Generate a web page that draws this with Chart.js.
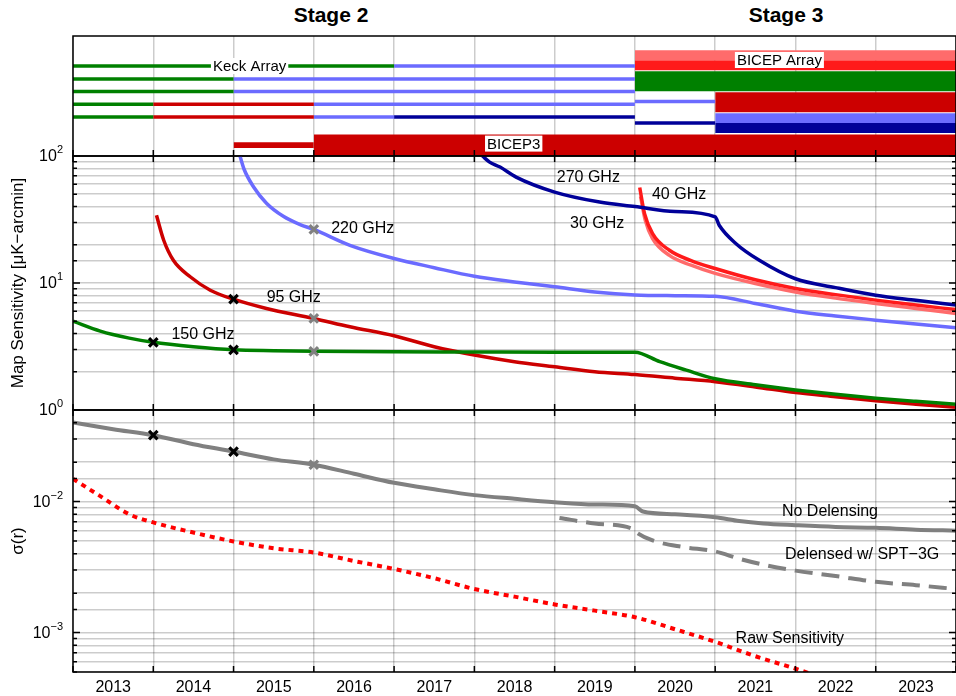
<!DOCTYPE html>
<html>
<head>
<meta charset="utf-8">
<script src="https://cdn.jsdelivr.net/npm/chart.js@4.4.1/dist/chart.umd.min.js"></script>
<style>
  html, body { margin: 0; padding: 0; background: #fff; }
  #wrap { position: relative; width: 956px; height: 696px; overflow: hidden; font-family: "Liberation Sans", Arial, sans-serif; }
  canvas { position: absolute; left: 0; }
  .stage { position: absolute; top: 4px; font-weight: bold; font-size: 21px; line-height: 21px; transform: translateX(-50%); white-space: nowrap; }
</style>
</head>
<body>
<div id="wrap">
  <div class="stage" style="left:331px">Stage 2</div>
  <div class="stage" style="left:786px">Stage 3</div>
  <canvas id="cTop" width="956" height="162" style="top:0"></canvas>
  <canvas id="cMid" width="956" height="282" style="top:140px"></canvas>
  <canvas id="cBot" width="956" height="296" style="top:400px"></canvas>
</div>
<script>
// ---- data ----
const yearTicks = [2013, 2014, 2015, 2016, 2017, 2018, 2019, 2020, 2021, 2022, 2023, 2024];

// map sensitivity [uK-arcmin]
const yr150 = [2013, 2013.34, 2013.7, 2014, 2014.5, 2015, 2015.5, 2016, 2017, 2018, 2019, 2020, 2020.31, 2020.64, 2021, 2021.5, 2022, 2022.5, 2023, 2023.5, 2024];
const s150 = [5.0, 4.18, 3.68, 3.41, 3.15, 2.98, 2.93, 2.9, 2.87, 2.86, 2.85, 2.85, 2.40, 2.06, 1.76, 1.58, 1.44, 1.33, 1.24, 1.17, 1.11];
const yr95 = [2014.04, 2014.13, 2014.25, 2014.46, 2014.71, 2015, 2015.41, 2016, 2016.45, 2017, 2017.5, 2018, 2018.5, 2019, 2019.5, 2020, 2020.5, 2021, 2021.5, 2022, 2022.5, 2023, 2023.5, 2024];
const s95 = [34.1, 21.7, 15.1, 11.2, 8.78, 7.46, 6.3, 5.26, 4.52, 3.84, 3.15, 2.71, 2.40, 2.19, 2.0, 1.9, 1.78, 1.67, 1.52, 1.37, 1.27, 1.18, 1.11, 1.05];
const yr220 = [2015.08, 2015.13, 2015.25, 2015.41, 2015.62, 2015.83, 2016, 2016.45, 2017, 2017.5, 2018, 2018.5, 2019, 2019.5, 2020, 2020.5, 2021, 2021.5, 2022, 2022.5, 2023, 2023.5, 2024];
const s220 = [100, 79, 57, 42.5, 33.5, 28.8, 26.4, 19.8, 15.6, 13.2, 11.3, 10.2, 9.33, 8.5, 8.05, 7.95, 7.85, 6.9, 6.0, 5.5, 5.1, 4.75, 4.45];
const yr270 = [2018.1, 2018.19, 2018.32, 2018.52, 2019, 2019.56, 2020, 2020.5, 2021, 2021.05, 2021.26, 2021.55, 2022, 2022.5, 2023, 2023.5, 2024];
const s270 = [100, 89.5, 81.8, 68.2, 52, 43.4, 40, 36.5, 33.1, 28.5, 20.4, 15.1, 10.8, 9.2, 8.0, 7.3, 6.7];
const yr40 = [2020.06, 2020.12, 2020.22, 2020.43, 2020.7, 2021, 2021.5, 2022, 2022.5, 2023, 2023.5, 2024];
const s40 = [56.5, 35.2, 24.5, 18.1, 15.0, 13.0, 10.6, 9.06, 8.1, 7.33, 6.7, 6.17];
const yr30 = [2020.07, 2020.13, 2020.22, 2020.43, 2020.7, 2021, 2021.5, 2022, 2022.5, 2023, 2023.5, 2024];
const s30 = [48, 31, 22.4, 16.5, 13.8, 11.9, 9.9, 8.5, 7.6, 6.9, 6.3, 5.76];
const doneYr = [2014, 2015, 2015];
const doneSens = [3.41, 2.97, 7.46];
const nextYr = [2016, 2016, 2016];
const nextSens = [26.4, 5.26, 2.9];

// sigma(r)
const yrNoDel = [2013, 2013.5, 2014, 2014.5, 2015, 2015.5, 2016, 2016.5, 2017, 2017.5, 2018, 2018.5, 2019, 2019.5, 2020, 2020.1, 2020.5, 2021, 2021.3, 2021.6, 2022, 2022.5, 2023, 2023.5, 2024];
const sNoDel = [0.0402, 0.0357, 0.0321, 0.0274, 0.0241, 0.021, 0.0191, 0.0163, 0.0139, 0.0124, 0.0112, 0.0105, 0.0099, 0.0095, 0.0092, 0.0084, 0.0080, 0.0076, 0.0071, 0.0068, 0.0066, 0.0064, 0.0063, 0.0061, 0.0060];
const yrDel = [2019.06, 2019.5, 2019.97, 2020.03, 2020.22, 2020.6, 2021, 2021.3, 2021.6, 2022, 2022.5, 2023, 2023.5, 2024];
const sDel = [0.0075, 0.0068, 0.0062, 0.00575, 0.00505, 0.0045, 0.00416, 0.00366, 0.0033, 0.00297, 0.0027, 0.00244, 0.0023, 0.00215];
const yrRaw = [2013, 2013.34, 2013.7, 2014, 2014.5, 2015, 2015.5, 2016, 2016.5, 2017, 2017.5, 2018, 2018.5, 2019, 2019.5, 2020, 2020.5, 2021, 2021.5, 2022, 2022.3];
const sRaw = [0.0149, 0.011, 0.0080, 0.00693, 0.0058, 0.00496, 0.0044, 0.00408, 0.00352, 0.00306, 0.0026, 0.00215, 0.00188, 0.00164, 0.00147, 0.00131, 0.00106, 0.00085, 0.00066, 0.00053, 0.00046];
const doneYrR = [2014, 2015];
const doneR = [0.0321, 0.0241];
const nextYrR = [2016];
const nextR = [0.0191];

// receiver timeline: [start, end, band]
const keckRows = [
  [[2013, 2017, '150'], [2017, 2020, '220']],
  [[2013, 2015, '150'], [2015, 2020, '220']],
  [[2013, 2015, '150'], [2015, 2020, '220']],
  [[2013, 2014, '150'], [2014, 2016, '95'], [2016, 2020, '220']],
  [[2013, 2014, '150'], [2014, 2016, '95'], [2016, 2017, '220'], [2017, 2020, '270']]
];
const keckExtra = [[2020, 2021, '220'], [2020, 2021, '270']];
const bicepArray = [[2020, 2024, '30'], [2020, 2024, '40'], [2020, 2024, '150'], [2021, 2024, '95'], [2021, 2024, '220'], [2021, 2024, '270']];
const bicep3 = [[2015, 2016, '95'], [2016, 2024, '95']];

// ---- layout / style ----
const FONT = '"Liberation Sans", Arial, sans-serif';
const GRID = 'rgba(0,0,0,0.2)';
const bandColor = { '30': '#ff6b6b', '40': '#ff1a1a', '95': '#cc0000', '150': '#008000', '220': '#6b6bff', '270': '#000099' };
const keckRowY = [30, 43, 55.6, 68.3, 81];
const keckExtraY = [65.6, 87];
const arrayBandY = [[14.3, 24.3], [24.3, 34.3], [35.3, 55.3], [56.3, 76.3], [77.3, 87], [87, 97]];
const b3BandY = [[106.3, 112], [98.6, 120]];

Chart.defaults.font.family = FONT;
Chart.defaults.color = '#000';

const pts = (xs, ys) => xs.map((x, i) => ({ x, y: ys[i] }));
const isDecade = v => Math.abs(Math.log10(v) - Math.round(Math.log10(v))) < 1e-6;
const noPad = s => { s.paddingLeft = 0; s.paddingRight = 0; s.paddingTop = 0; s.paddingBottom = 0; };

const framePlugin = {
  id: 'frame',
  afterDraw(chart, args, o) {
    const { ctx, chartArea: a, scales } = chart;
    ctx.save();
    ctx.strokeStyle = '#000';
    ctx.lineWidth = 1.5;
    ctx.beginPath();
    scales.x.ticks.forEach(t => {
      const px = scales.x.getPixelForValue(t.value);
      ctx.moveTo(px, a.bottom); ctx.lineTo(px, a.bottom - 6);
      if (o.xTop) { ctx.moveTo(px, a.top); ctx.lineTo(px, a.top + 6); }
    });
    if (o.log) {
      scales.y.ticks.forEach(t => {
        const py = scales.y.getPixelForValue(t.value);
        const len = isDecade(t.value) ? 7 : 4;
        ctx.moveTo(a.left, py); ctx.lineTo(a.left + len, py);
        ctx.moveTo(a.right, py); ctx.lineTo(a.right - len, py);
      });
    }
    ctx.stroke();
    ctx.strokeRect(a.left, a.top, a.right - a.left, a.bottom - a.top);
    if (o.log) {
      ctx.fillStyle = '#000';
      ctx.textBaseline = 'middle';
      ctx.textAlign = 'right';
      scales.y.ticks.forEach(t => {
        if (!isDecade(t.value)) return;
        const py = scales.y.getPixelForValue(t.value);
        const e = Math.round(Math.log10(t.value));
        const expTxt = e < 0 ? '\u2212' + (-e) : String(e);
        ctx.font = '11px ' + FONT;
        const ew = ctx.measureText(expTxt).width;
        ctx.fillText(expTxt, 63, py - 6);
        ctx.font = '16px ' + FONT;
        ctx.fillText('10', 63 - ew, py + 1);
      });
    }
    ctx.restore();
  }
};

const textPlugin = {
  id: 'texts',
  afterDatasetsDraw(chart, args, o) {
    const { ctx, scales: { x, y } } = chart;
    ctx.save();
    ctx.font = o.size + 'px ' + FONT;
    ctx.textAlign = 'center';
    ctx.textBaseline = 'middle';
    o.items.forEach(it => {
      const px = x.getPixelForValue(it.x), py = y.getPixelForValue(it.y);
      if (o.box) {
        const w = ctx.measureText(it.text).width + 4;
        ctx.fillStyle = '#fff';
        ctx.fillRect(px - w / 2, py - 8, w, 16);
      }
      ctx.fillStyle = '#000';
      ctx.fillText(it.text, px, py + 1);
    });
    ctx.restore();
  }
};

function xAxis(labels) {
  return {
    type: 'linear', min: 2013, max: 2024,
    afterBuildTicks: s => { s.ticks = yearTicks.map(v => ({ value: v })); },
    grid: { color: GRID, lineWidth: 1.5, drawTicks: false },
    border: { display: false },
    ticks: labels
      ? { display: true, autoSkip: false, maxRotation: 0, padding: 6, labelOffset: 40.2, font: { size: 16 }, callback: v => (v < 2024 ? String(v) : '') }
      : { display: false },
    afterFit: s => { s.height = labels ? 24 : 0; noPad(s); }
  };
}

function logAxis(min, max, title) {
  return {
    type: 'logarithmic', min, max,
    grid: { color: GRID, lineWidth: 1.5, drawTicks: false },
    border: { display: false },
    ticks: { display: false, autoSkip: false },
    title: { display: true, text: title, font: { size: 17 }, padding: { top: 8 } },
    afterFit: s => { s.width = 73; noPad(s); }
  };
}

const lineDs = (data, color, width, extra) => Object.assign({
  data, borderColor: color, borderWidth: width, pointRadius: 0,
  fill: false, cubicInterpolationMode: 'monotone'
}, extra || {});
const crossDs = (data, color) => ({
  data, showLine: false, pointStyle: 'crossRot', pointRadius: 6,
  pointBorderWidth: 3.2, pointBorderColor: color, borderColor: color, backgroundColor: color
});

// ---- top panel: receivers ----
const topSets = [];
keckRows.forEach((row, r) => row.forEach(([s, e, b]) => {
  topSets.push(lineDs([{ x: s, y: keckRowY[r] }, { x: e, y: keckRowY[r] }], bandColor[b], 3.5, { cubicInterpolationMode: 'default', tension: 0 }));
}));
keckExtra.forEach(([s, e, b], i) => {
  topSets.push(lineDs([{ x: s, y: keckExtraY[i] }, { x: e, y: keckExtraY[i] }], bandColor[b], 3.5, { tension: 0, cubicInterpolationMode: 'default' }));
});
const rectDs = ([s, e, b], [y0, y1]) => ({
  data: [{ x: s, y: y0 }, { x: e, y: y0 }], borderWidth: 0, pointRadius: 0,
  backgroundColor: bandColor[b], borderColor: bandColor[b], fill: { value: y1 }
});
bicepArray.forEach((seg, i) => topSets.push(rectDs(seg, arrayBandY[i])));
bicep3.forEach((seg, i) => topSets.push(rectDs(seg, b3BandY[i])));

new Chart(document.getElementById('cTop'), {
  type: 'line',
  data: { datasets: topSets },
  options: {
    responsive: false, animation: false,
    layout: { autoPadding: false, padding: { top: 36, left: 73, right: 0, bottom: 6 } },
    plugins: {
      legend: { display: false }, tooltip: { enabled: false },
      frame: { xTop: false, log: false },
      texts: { size: 15, box: true, items: [
        { text: 'Keck Array', x: 2015.2, y: 30 },
        { text: 'BICEP Array', x: 2021.8, y: 24 },
        { text: 'BICEP3', x: 2018.49, y: 107.6 }
      ] }
    },
    scales: {
      x: xAxis(false),
      y: { type: 'linear', min: 0, max: 120, reverse: true, display: false }
    }
  },
  plugins: [textPlugin, framePlugin]
});

// ---- middle panel: map sensitivity ----
new Chart(document.getElementById('cMid'), {
  type: 'line',
  data: { datasets: [
    crossDs(pts(doneYr, doneSens), '#000'),
    crossDs(pts(nextYr, nextSens), '#808080'),
    lineDs(pts(yr150, s150), '#008000', 3.5),
    lineDs(pts(yr95, s95), '#cc0000', 3.5),
    lineDs(pts(yr220, s220), '#6b6bff', 3.5),
    lineDs(pts(yr270, s270), '#000099', 3.5),
    lineDs(pts(yr40, s40), '#ff1a1a', 3.5),
    lineDs(pts(yr30, s30), '#ff6b6b', 3.5)
  ] },
  options: {
    responsive: false, animation: false,
    layout: { autoPadding: false, padding: { top: 16, left: 0, right: 0, bottom: 12 } },
    plugins: {
      legend: { display: false }, tooltip: { enabled: false },
      frame: { xTop: true, log: true },
      texts: { size: 16, box: false, items: [
        { text: '150 GHz', x: 2014.62, y: 4.03 },
        { text: '95 GHz', x: 2015.75, y: 7.88 },
        { text: '220 GHz', x: 2016.61, y: 27.5 },
        { text: '270 GHz', x: 2019.42, y: 69 },
        { text: '30 GHz', x: 2019.53, y: 30.1 },
        { text: '40 GHz', x: 2020.55, y: 50.8 }
      ] }
    },
    scales: {
      x: xAxis(false),
      y: logAxis(1, 100, 'Map Sensitivity [\u03bcK\u2212arcmin]')
    }
  },
  plugins: [textPlugin, framePlugin]
});

// ---- bottom panel: sigma(r) ----
new Chart(document.getElementById('cBot'), {
  type: 'line',
  data: { datasets: [
    crossDs(pts(doneYrR, doneR), '#000'),
    crossDs(pts(nextYrR, nextR), '#808080'),
    lineDs(pts(yrNoDel, sNoDel), '#808080', 4),
    lineDs(pts(yrDel, sDel), '#808080', 4, { borderDash: [18, 9] }),
    lineDs(pts(yrRaw, sRaw), '#ff0000', 4, { borderDash: [5, 5] })
  ] },
  options: {
    responsive: false, animation: false,
    layout: { autoPadding: false, padding: { top: 10, left: 0, right: 0, bottom: 0 } },
    plugins: {
      legend: { display: false }, tooltip: { enabled: false },
      frame: { xTop: true, log: true },
      texts: { size: 16, box: false, items: [
        { text: 'No Delensing', x: 2022.43, y: 0.00853 },
        { text: 'Delensed w/ SPT\u22123G', x: 2022.83, y: 0.00399 },
        { text: 'Raw Sensitivity', x: 2021.93, y: 0.00092 }
      ] }
    },
    scales: {
      x: xAxis(true),
      y: logAxis(0.0005, 0.05, '\u03c3(r)')
    }
  },
  plugins: [textPlugin, framePlugin]
});
</script>
</body>
</html>
